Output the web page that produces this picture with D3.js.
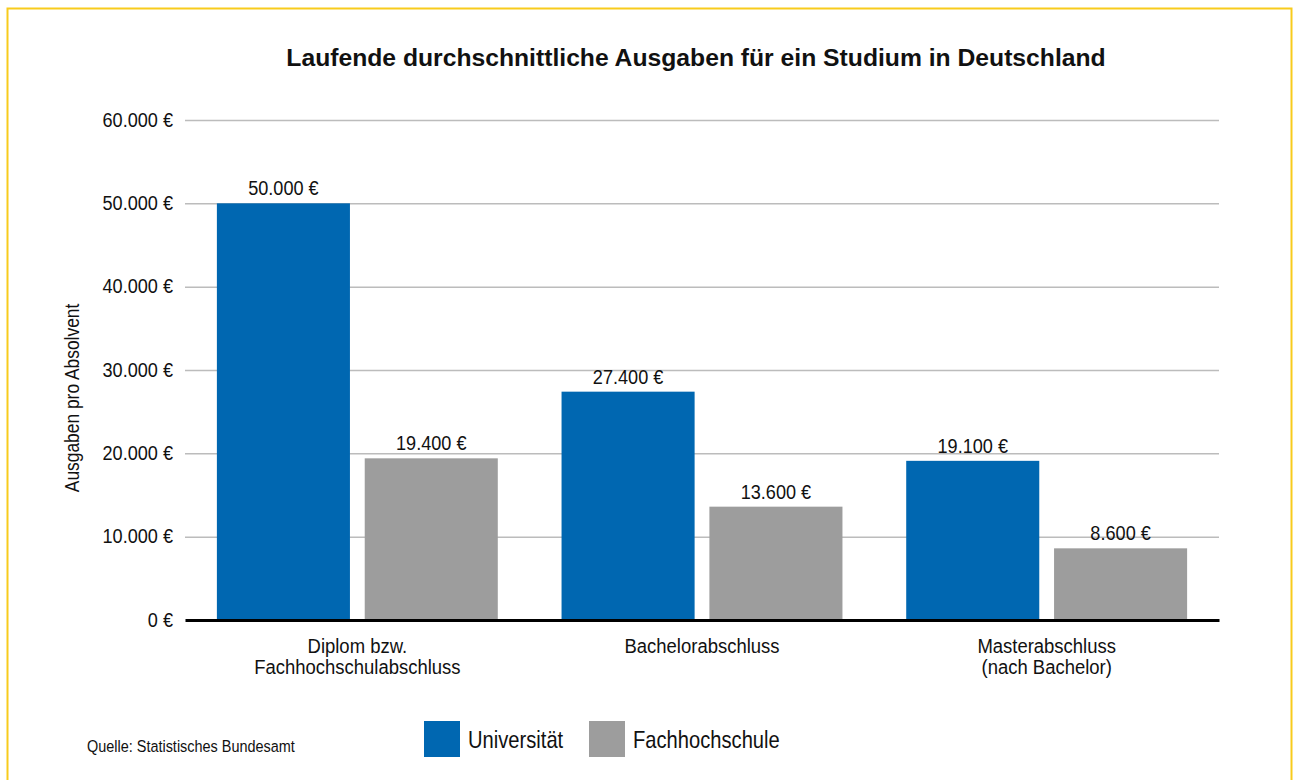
<!DOCTYPE html>
<meta charset="utf-8">
<style>

body {
    margin: 0;
    background: #fff;
}

svg text {
    font-family: "Liberation Sans", Arial, sans-serif;
    fill: #111;
}

.grid line {
    stroke: #bcbcbc;
    stroke-width: 1.5;
}

.grid path {
    display: none;
}

.xaxis path {
    stroke: #000;
    stroke-width: 3;
}

</style>
<body>
<script src="https://cdn.jsdelivr.net/npm/d3@7"></script>
<script>

// data
var categories = ["Diplom bzw.|Fachhochschulabschluss", "Bachelorabschluss", "Masterabschluss|(nach Bachelor)"];
var series = ["Universität", "Fachhochschule"];
var universitaet = [50000, 27400, 19100];
var fachhochschule = [19400, 13600, 8600];
var yTicks = [0, 10000, 20000, 30000, 40000, 50000, 60000];

var colors = ["#0067b1", "#9d9d9d"];

var width = 1298,
    height = 780;

var de = d3.formatLocale({decimal: ",", thousands: ".", grouping: [3], currency: ["", " €"]});
var fmt = function(v) { return de.format(",.0f")(v) + " €"; };

// squeeze text a bit horizontally, the original uses a condensed face
function squeeze(sel, k, origin) {
    sel.style("transform", "scaleX(" + k + ")")
       .style("transform-box", "fill-box")
       .style("transform-origin", origin);
}

var svg = d3.select("body").append("svg")
    .attr("width", width)
    .attr("height", height);

// yellow frame
svg.append("rect")
    .attr("x", 7.5)
    .attr("y", 8.5)
    .attr("width", 1284)
    .attr("height", 800)
    .attr("fill", "none")
    .attr("stroke", "#f8cb1c")
    .attr("stroke-width", 2);

var x = d3.scaleBand()
    .domain(categories)
    .range([185, 1219])
    .paddingInner(0.185)
    .paddingOuter(0.0925);

var x1 = d3.scaleBand()
    .domain(series)
    .range([0, x.bandwidth()])
    .paddingInner(0.1);

var y = d3.scaleLinear()
    .domain([0, 60000])
    .range([620, 120]);

var color = d3.scaleOrdinal()
    .domain(series)
    .range(colors);

// title
svg.append("text")
    .attr("x", 696)
    .attr("y", 66)
    .attr("text-anchor", "middle")
    .style("font-size", "24.7px")
    .style("font-weight", "bold")
    .text("Laufende durchschnittliche Ausgaben für ein Studium in Deutschland");

// grid + y labels
var yAxis = d3.axisLeft(y)
    .tickValues(yTicks)
    .tickSize(-(1219 - 185))
    .tickPadding(12)
    .tickFormat(fmt);

var gy = svg.append("g")
    .attr("class", "grid")
    .attr("transform", "translate(185,0)")
    .call(yAxis);

gy.selectAll("text")
    .style("font-size", "19.5px")
    .attr("fill", "#111")
    .call(squeeze, 0.93, "right center");

gy.selectAll(".tick").filter(function(d) { return d === 0; }).select("line").remove();

// y title
svg.append("g")
    .attr("transform", "translate(79,398) rotate(-90)")
  .append("text")
    .attr("text-anchor", "middle")
    .style("font-size", "20px")
    .text("Ausgaben pro Absolvent")
    .call(squeeze, 0.87, "center");

// bars
var rows = categories.map(function(c, i) {
    return {cat: c, values: [
        {key: series[0], value: universitaet[i]},
        {key: series[1], value: fachhochschule[i]}
    ]};
});

var group = svg.selectAll(".group")
    .data(rows)
  .enter().append("g")
    .attr("class", "group")
    .attr("transform", function(d) { return "translate(" + x(d.cat) + ",0)"; });

group.selectAll("rect")
    .data(function(d) { return d.values; })
  .enter().append("rect")
    .attr("x", function(d) { return x1(d.key); })
    .attr("y", function(d) { return y(d.value); })
    .attr("width", x1.bandwidth())
    .attr("height", function(d) { return y(0) - y(d.value); })
    .attr("fill", function(d) { return color(d.key); });

group.selectAll(".val")
    .data(function(d) { return d.values; })
  .enter().append("text")
    .attr("class", "val")
    .attr("x", function(d) { return x1(d.key) + x1.bandwidth() / 2; })
    .attr("y", function(d) { return y(d.value) - 8; })
    .attr("text-anchor", "middle")
    .style("font-size", "19.5px")
    .text(function(d) { return fmt(d.value); })
    .call(squeeze, 0.93, "center");

// x axis (zero line) + category labels
var xAxis = d3.axisBottom(x)
    .tickSize(0)
    .tickSizeOuter(0);

var gx = svg.append("g")
    .attr("class", "xaxis")
    .attr("transform", "translate(0," + y(0) + ")")
    .call(xAxis);

gx.selectAll(".tick text").each(function(d) {
    var t = d3.select(this).text(null).attr("y", 0).attr("dy", null)
        .style("font-size", "21px").attr("fill", "#111");
    d.split("|").forEach(function(line, i) {
        t.append("tspan")
            .attr("x", 0)
            .attr("y", 33 + i * 21.5)
            .text(line);
    });
    squeeze(t, 0.88, "center");
});

// source
svg.append("text")
    .attr("x", 87)
    .attr("y", 752)
    .style("font-size", "17px")
    .text("Quelle: Statistisches Bundesamt")
    .call(squeeze, 0.85, "left center");

// legend
var legend = svg.selectAll(".legend")
    .data(series)
  .enter().append("g")
    .attr("class", "legend")
    .attr("transform", function(d, i) { return "translate(" + [424, 589][i] + ",721)"; });

legend.append("rect")
    .attr("width", 36)
    .attr("height", 36)
    .attr("fill", function(d) { return color(d); });

legend.append("text")
    .attr("x", 44)
    .attr("y", 27.5)
    .style("font-size", "24px")
    .text(function(d) { return d; })
    .call(squeeze, 0.84, "left center");

</script>
</body>
</html>
